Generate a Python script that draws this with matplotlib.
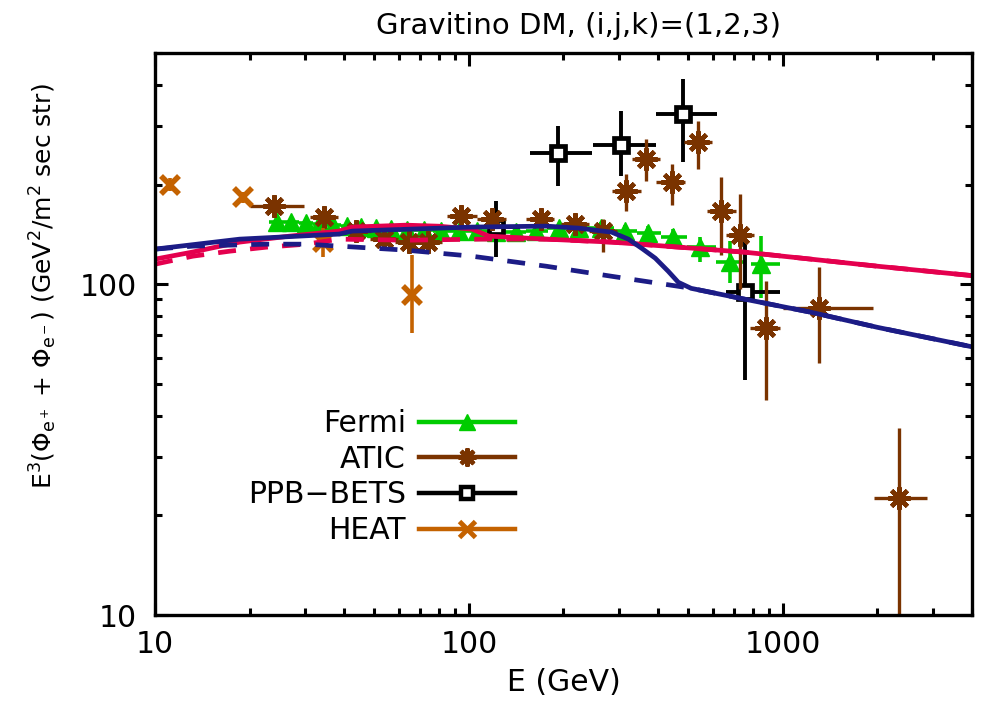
import numpy as np
import matplotlib
matplotlib.use("Agg")
import matplotlib.pyplot as plt
from matplotlib.lines import Line2D
from matplotlib.ticker import LogLocator, NullFormatter, FixedLocator, FixedFormatter

plt.rcParams['font.family'] = ['DejaVu Sans']
plt.rcParams['mathtext.default'] = 'regular'

# ---------------- data ----------------
# Fermi
fermi_E = [24.4, 27.2, 30.2, 33.4, 37.0, 41.0, 45.4, 50.7, 56.5, 63.6, 71.9, 81.5, 92.9,
           106, 122, 141, 164, 193, 224, 264, 315, 373, 448, 545, 679, 852]
fermi_F = [154, 154, 153, 152, 151, 150, 149, 148, 147, 146, 146, 145, 145,
           145, 144, 144, 145, 148, 148, 148, 145, 143, 139, 130, 117, 115]
fermi_Flo = [150, 150, 149, 148, 147, 146, 145, 144, 143, 142, 142, 141, 141,
             141, 140, 140, 141, 143, 143, 142, 139, 136, 132, 117, 101, 91]
fermi_Fhi = [158, 158, 157, 156, 155, 154, 153, 152, 151, 150, 150, 149, 149,
             149, 148, 148, 149, 153, 153, 154, 151, 150, 147, 139, 135, 140]
fermi_Elo = [23.1, 25.8, 28.7, 31.8, 35.2, 39.0, 43.2, 48.1, 53.6, 60.0, 67.7, 76.6, 87.0,
             99.2, 114, 131, 152, 178, 208, 243, 289, 343, 410, 496, 610, 790]
fermi_Ehi = [25.8, 28.7, 31.8, 35.2, 39.0, 43.2, 48.1, 53.6, 60.0, 67.7, 76.6, 87.0, 99.2,
             114, 131, 152, 178, 208, 243, 289, 343, 410, 496, 610, 757, 977]

# ATIC
atic_E = [24.0, 34.6, 43.8, 53.7, 64.5, 74, 94.5, 118, 169, 218, 268, 317, 367, 442,
          536, 637, 730, 880, 1300, 2344]
atic_F = [172, 160, 145, 137, 134, 134, 161, 157, 158, 152, 145, 191, 239, 204,
          269, 166, 141, 74, 85, 22.6]
atic_Flo = [167, 155, 140, 132, 129, 129, 155, 150, 150, 143, 125, 166.5, 205, 173.5,
            223, 123, 96.5, 44.8, 58, 5]
atic_Fhi = [177, 165, 150, 142, 139, 139, 167, 164, 166, 161, 157, 215, 275, 231,
            312, 211, 187.5, 102, 112.6, 36.8]
atic_Elo = [20.0, 31.2, 39.5, 48.4, 58.1, 66.7, 85.2, 106, 152, 196, 242, 286, 331, 395,
            483, 574, 658, 786, 1000, 1948]
atic_Ehi = [29.9, 38.4, 48.6, 59.6, 71.6, 82.1, 106, 131, 187, 242, 297, 352, 407, 488,
            595, 707, 810, 979, 1941, 2873]

# PPB-BETS
ppb_E = [122, 192, 304, 481, 757]
ppb_F = [149, 250, 264, 327, 95]
ppb_Flo = [121, 198, 212, 234, 51.5]
ppb_Fhi = [178, 301, 334, 417, 134]
ppb_Elo = [100, 157, 249, 395, 660]
ppb_Ehi = [145, 246, 393, 616, 978]

# HEAT
heat_E = [11.2, 19.0, 34.4, 65.9]
heat_F = [200, 183, 134, 93]
heat_Flo = [191, 176, 121, 71]
heat_Fhi = [209, 190, 148, 123]

# Model curves (gravitino DM)
red_solid_E = [10, 13.1, 18.6, 26.8, 38.6, 42.5, 63.0, 80.2, 102.3, 115.8, 175.8, 284.7,
               464.4, 757.3, 1228, 1998, 4000]
red_solid_F = [119.1, 125.0, 134.1, 139.8, 144.8, 148.9, 150.9, 149.8, 146.8, 139.8, 136.9,
               134.1, 129.5, 125.0, 119.1, 113.4, 106.2]
red_dash_E = [10, 13.2, 17.3, 22.7, 30.3, 38.6, 63.0, 110, 175.8, 284.7, 464.4, 757.3,
              1228, 1998, 4000]
red_dash_F = [115.0, 121.6, 125.9, 129.5, 132.2, 136.9, 135.9, 136.9, 136.9, 134.1, 129.5,
              125.0, 119.1, 113.4, 106.2]
blue_solid_E = [10, 18.6, 38.6, 42.5, 102.3, 175.8, 223.6, 284.7, 322, 358, 392, 431, 464,
                510, 757, 1228, 1998, 4000]
blue_solid_F = [127.7, 136.9, 141.8, 144.8, 148.9, 149.9, 147.8, 143.7, 136.9, 127.7, 119.9,
                109.5, 101.4, 97.2, 90.1, 82.3, 74.1, 64.7]
blue_dash_E = [10, 13.2, 22.7, 30.3, 38.6, 63.0, 102, 176, 285, 464, 510, 757, 1228, 1998, 4000]
blue_dash_F = [127.7, 130.4, 132.2, 132.2, 130.4, 126.8, 121.6, 113.4, 105.7, 98.6, 97.2,
               90.1, 82.3, 74.1, 64.7]

# ---------------- styles ----------------
c_fermi = '#00cc00'
c_atic = '#7a3300'
c_ppb = '#000000'
c_heat = '#c46200'
c_red = '#e4004e'
c_blue = '#1c1c86'

fig = plt.figure(figsize=(9.86, 7.19), dpi=100)
ax = fig.add_axes([0.1572, 0.1446, 0.8286, 0.7816])
ax.set_xscale('log')
ax.set_yscale('log')
ax.set_xlim(10, 4000)
ax.set_ylim(10, 500)


def asym(v, lo, hi):
    v = np.asarray(v, float)
    return np.vstack([v - np.asarray(lo, float), np.asarray(hi, float) - v])


# Fermi
ax.errorbar(fermi_E, fermi_F, xerr=asym(fermi_E, fermi_Elo, fermi_Ehi),
            yerr=asym(fermi_F, fermi_Flo, fermi_Fhi), fmt='^', color=c_fermi,
            ms=13, mec=c_fermi, elinewidth=2.6, capsize=0, zorder=2)

# PPB-BETS
ax.errorbar(ppb_E, ppb_F, xerr=asym(ppb_E, ppb_Elo, ppb_Ehi),
            yerr=asym(ppb_F, ppb_Flo, ppb_Fhi), fmt='s', color=c_ppb, mfc='white',
            ms=10, mew=3.4, elinewidth=2.8, capsize=0, zorder=3)

# ATIC
ax.errorbar(atic_E, atic_F, xerr=asym(atic_E, atic_Elo, atic_Ehi),
            yerr=asym(atic_F, atic_Flo, atic_Fhi), fmt='none', ecolor=c_atic,
            elinewidth=2.4, capsize=0, zorder=4)
ax.plot(atic_E, atic_F, ls='none', marker=(8, 2, 0), ms=16, mew=3.2, color=c_atic, zorder=4)

# HEAT
ax.errorbar(heat_E, heat_F, yerr=asym(heat_F, heat_Flo, heat_Fhi), fmt='x', color=c_heat,
            ms=13, mew=4, elinewidth=2.6, capsize=0, zorder=4)

# curves
ax.plot(red_solid_E, red_solid_F, '-', color=c_red, lw=3.4, zorder=5)
ax.plot(red_dash_E, red_dash_F, '--', color=c_red, lw=3.4, dashes=(3.8, 3.0), zorder=5)
ax.plot(blue_solid_E, blue_solid_F, '-', color=c_blue, lw=3.4, zorder=5)
ax.plot(blue_dash_E, blue_dash_F, '--', color=c_blue, lw=3.4, dashes=(3.8, 3.0), zorder=5)

# ---------------- axes styling ----------------
for s in ax.spines.values():
    s.set_linewidth(2.4)
    s.set_zorder(6)

ax.xaxis.set_major_locator(FixedLocator([10, 100, 1000]))
ax.xaxis.set_major_formatter(FixedFormatter(['10', '100', '1000']))
ax.xaxis.set_minor_locator(LogLocator(base=10, subs=np.arange(2, 10), numticks=20))
ax.xaxis.set_minor_formatter(NullFormatter())
ax.yaxis.set_major_locator(FixedLocator([10, 100]))
ax.yaxis.set_major_formatter(FixedFormatter(['10', '100']))
ax.yaxis.set_minor_locator(LogLocator(base=10, subs=np.arange(2, 10), numticks=20))
ax.yaxis.set_minor_formatter(NullFormatter())

ax.tick_params(which='both', direction='in', top=True, right=True, width=2.2,
               labelsize=21.5)
ax.tick_params(which='major', length=9)
ax.tick_params(which='minor', length=5)
ax.tick_params(axis='x', which='major', pad=11)
ax.tick_params(axis='y', which='major', pad=13)

ax.set_xlabel('E (GeV)', fontsize=21.5, labelpad=6)
ax.set_ylabel(r'E$^3$(Φ$_{e^+}$ + Φ$_{e^-}$) (GeV$^2$/m$^2$ sec str)', fontsize=18,
              labelpad=8)
ax.yaxis.set_label_coords(-0.118, 0.585)
title = ax.set_title('Gravitino DM, (i,j,k)=(1,2,3)', fontsize=21, pad=14)
title.set_x(0.518)

handles = [
    Line2D([], [], color=c_fermi, lw=3.2, marker='^', ms=12),
    Line2D([], [], color=c_atic, lw=3.2, marker=(8, 2, 0), ms=13, mew=3),
    Line2D([], [], color=c_ppb, lw=3.2, marker='s', ms=9, mfc='white', mew=3.2),
    Line2D([], [], color=c_heat, lw=3.2, marker='x', ms=11, mew=3.5),
]
labels = ['Fermi', 'ATIC', 'PPB\u2212BETS', 'HEAT']
leg = ax.legend(handles, labels, loc='upper right', bbox_to_anchor=(0.4406, 0.366),
                markerfirst=False, frameon=False, fontsize=21.5, handlelength=3.2,
                handletextpad=0.45, labelspacing=0.22, borderaxespad=0, borderpad=0)

fig.savefig('out.png', dpi=100)
